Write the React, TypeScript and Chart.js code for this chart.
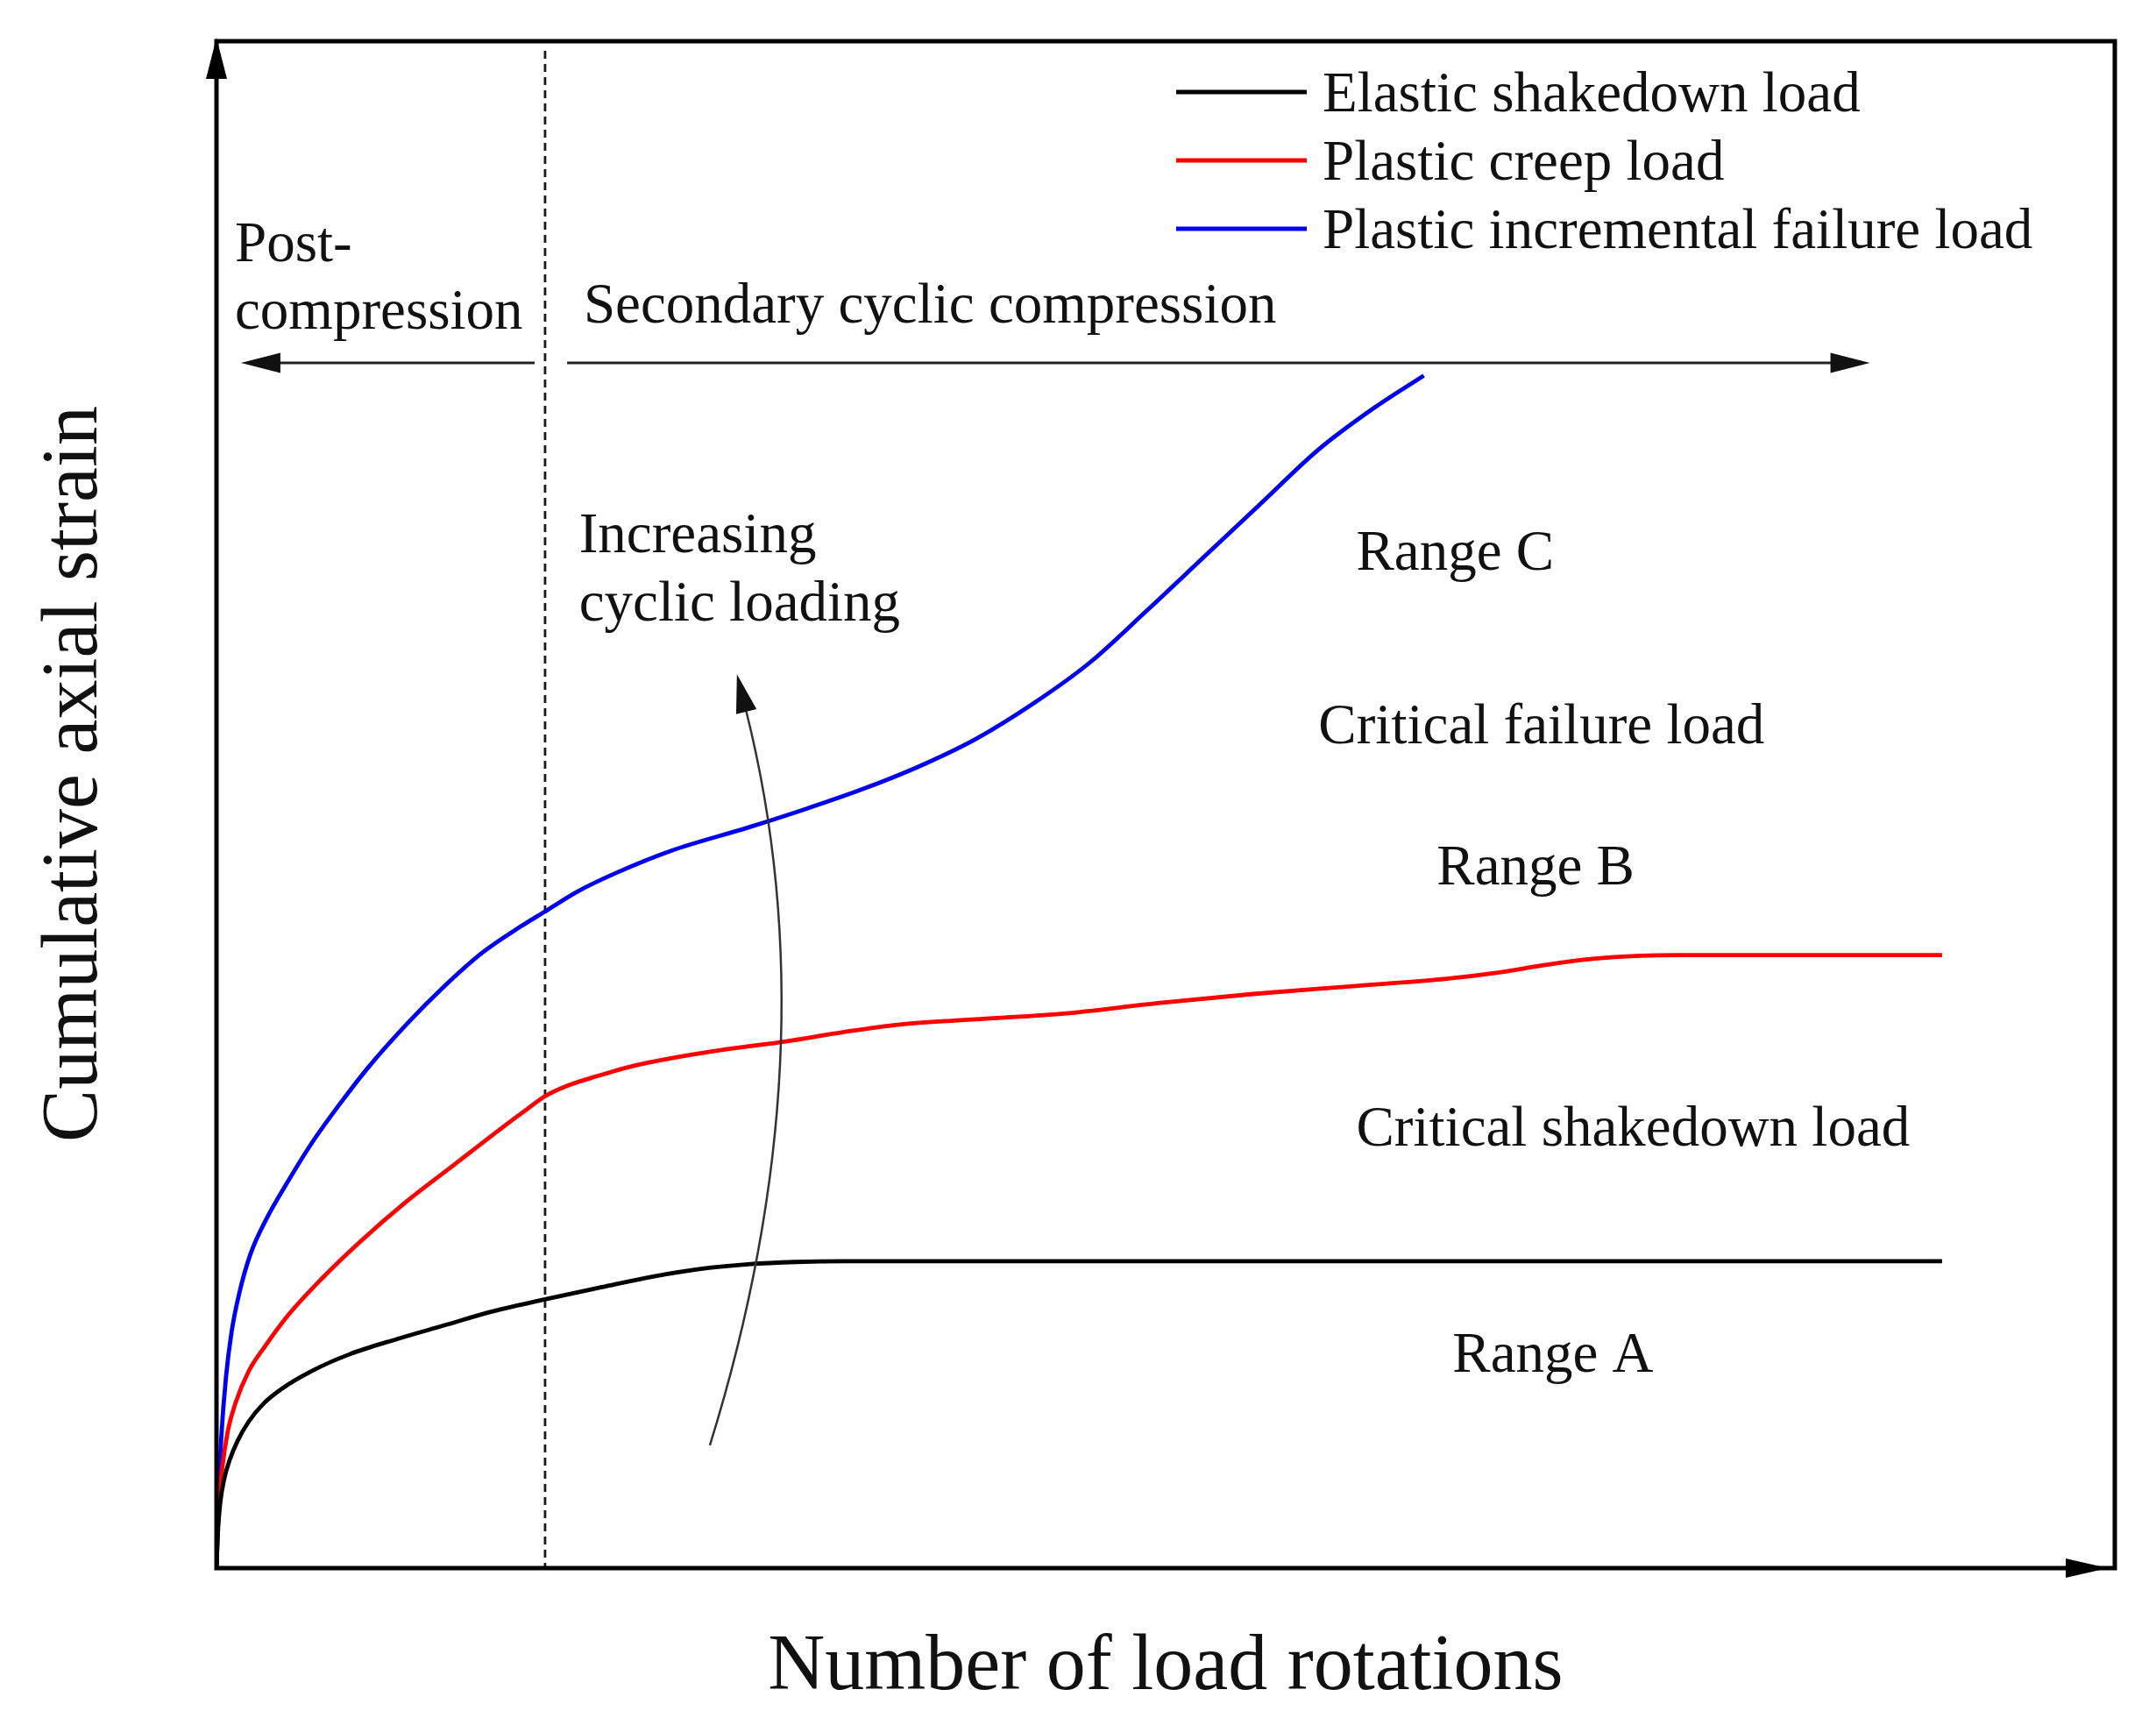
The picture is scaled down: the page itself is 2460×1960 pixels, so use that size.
import React, { useEffect, useRef } from "react";
import { Chart, registerables } from "chart.js";

Chart.register(...registerables);

// ---- Data (schematic units: x = load rotations 0-100, y = cumulative strain 0-100) ----
const seriesLabels = [
  "Elastic shakedown load",
  "Plastic creep load",
  "Plastic incremental failure load",
];
const seriesColors = ["#000000", "#ff0000", "#0000f0"];

const elasticShakedown: [number, number][] = [
  [0, 0], [0.08, 2.5], [0.2, 4.3], [0.4, 5.8], [0.7, 7.1], [1.1, 8.3], [1.7, 9.6],
  [2.5, 10.8], [3.5, 11.8], [5.0, 12.9], [7.0, 14.0], [9.5, 15.0], [12.0, 15.9],
  [14.5, 16.8], [17.3, 17.6], [20.3, 18.4], [23.0, 19.1], [25.5, 19.6], [28.0, 19.9],
  [30.5, 20.05], [33.0, 20.1], [60.0, 20.1], [90.9, 20.1],
];

const plasticCreep: [number, number][] = [
  [0, 0], [0.1, 3.5], [0.3, 6.5], [0.6, 9.0], [1.0, 10.8], [1.7, 12.9], [2.6, 14.6],
  [3.8, 16.6], [5.5, 18.9], [7.5, 21.3], [10.0, 24.0], [12.5, 26.4], [15.0, 28.8],
  [16.3, 30.0], [17.3, 30.9], [18.5, 31.6], [20.0, 32.2], [22.0, 32.9], [24.0, 33.4],
  [27.0, 34.0], [30.0, 34.5], [33.0, 35.1], [36.0, 35.6], [39.4, 35.9], [44.5, 36.3],
  [49.6, 37.0], [54.6, 37.6], [59.7, 38.1], [64.8, 38.6], [67.5, 39.0], [70.0, 39.5],
  [72.5, 39.9], [75.0, 40.1], [77.0, 40.15], [90.9, 40.15],
];

const plasticFailure: [number, number][] = [
  [0, 0], [0.1, 4.5], [0.25, 8.5], [0.5, 12.5], [0.8, 15.5], [1.2, 18.0], [1.8, 20.6],
  [2.6, 22.8], [3.8, 25.4], [5.0, 27.8], [6.5, 30.4], [8.0, 32.8], [10.0, 35.6],
  [12.0, 38.1], [14.0, 40.3], [16.0, 42.0], [17.3, 43.0], [19.0, 44.3], [21.0, 45.5],
  [24.0, 47.0], [28.0, 48.5], [31.0, 49.7], [34.0, 51.0], [37.0, 52.5], [40.0, 54.3],
  [43.0, 56.6], [46.0, 59.3], [49.0, 62.7], [52.0, 66.2], [55.0, 69.7], [58.0, 73.2],
  [61.0, 76.0], [63.6, 78.1],
];

const xTitle = "Number of load rotations";
const yTitle = "Cumulative axial strain";

// ---- Annotation layout (data coordinates) ----
const phaseBoundaryX = 17.31;
const annotationTexts = [
  { text: "Post-", x: 0.97, y: 85.59 },
  { text: "compression", x: 0.97, y: 81.17 },
  { text: "Secondary cyclic compression", x: 19.34, y: 81.57 },
  { text: "Increasing", x: 19.1, y: 66.53 },
  { text: "cyclic loading", x: 19.1, y: 62.06 },
  { text: "Range C", x: 60.04, y: 65.38 },
  { text: "Critical failure load", x: 58.05, y: 54.02 },
  { text: "Range B", x: 64.28, y: 44.78 },
  { text: "Critical shakedown load", x: 60.04, y: 27.67 },
  { text: "Range A", x: 65.11, y: 12.86 },
];

const FONT = '"Liberation Serif", "Times New Roman", serif';

function arrowHead(ctx: CanvasRenderingContext2D, tx: number, ty: number, dx: number, dy: number, len: number, half: number) {
  const bx = tx - dx * len;
  const by = ty - dy * len;
  const nx = -dy;
  const ny = dx;
  ctx.beginPath();
  ctx.moveTo(tx, ty);
  ctx.lineTo(bx + nx * half, by + ny * half);
  ctx.lineTo(bx - nx * half, by - ny * half);
  ctx.closePath();
  ctx.fill();
}

const decorPlugin = {
  id: "decor",
  beforeDatasetsDraw(chart: any) {
    const { ctx, chartArea: a, scales } = chart;
    const px = scales.x.getPixelForValue(phaseBoundaryX);
    ctx.save();
    ctx.strokeStyle = "#1a1a1a";
    ctx.lineWidth = 2.8;
    ctx.setLineDash([9, 6]);
    ctx.beginPath();
    ctx.moveTo(px, a.top + 11);
    ctx.lineTo(px, a.bottom);
    ctx.stroke();
    ctx.restore();
  },
  afterDatasetsDraw(chart: any) {
    const { ctx, chartArea: a, scales } = chart;
    const X = (v: number) => scales.x.getPixelForValue(v);
    const Y = (v: number) => scales.y.getPixelForValue(v);
    ctx.save();

    // frame & axes
    ctx.strokeStyle = "#000";
    ctx.fillStyle = "#000";
    ctx.lineWidth = 5;
    ctx.lineCap = "square";
    ctx.beginPath();
    ctx.moveTo(a.left, a.bottom);
    ctx.lineTo(a.left, a.top);
    ctx.lineTo(a.right, a.top);
    ctx.lineTo(a.right, a.bottom);
    ctx.lineTo(a.left, a.bottom);
    ctx.stroke();
    ctx.lineCap = "butt";
    arrowHead(ctx, a.left, a.top - 4, 0, -1, 47, 12);
    arrowHead(ctx, a.right - 8, a.bottom, 1, 0, 48, 11);

    // phase arrows
    ctx.strokeStyle = "#222";
    ctx.fillStyle = "#111";
    ctx.lineWidth = 3;
    const ay = Y(78.93);
    const lTip = X(1.29);
    ctx.beginPath();
    ctx.moveTo(X(16.76), ay);
    ctx.lineTo(lTip + 40, ay);
    ctx.stroke();
    arrowHead(ctx, lTip, ay, -1, 0, 45, 11.5);
    const rTip = X(87.1);
    ctx.beginPath();
    ctx.moveTo(X(18.47), ay);
    ctx.lineTo(rTip - 40, ay);
    ctx.stroke();
    arrowHead(ctx, rTip, ay, 1, 0, 45, 11.5);

    // curved "increasing" arrow
    const sx = X(25.99), sy = Y(8.04);
    const cx = X(32.43), cy = Y(33.78);
    const ex = X(27.89), ey = Y(56.2);
    ctx.strokeStyle = "#333";
    ctx.lineWidth = 2.5;
    ctx.beginPath();
    ctx.moveTo(sx, sy);
    ctx.quadraticCurveTo(cx, cy, ex, ey);
    ctx.stroke();
    let dx = ex - cx, dy = ey - cy;
    const dl = Math.hypot(dx, dy);
    dx /= dl; dy /= dl;
    ctx.fillStyle = "#111";
    arrowHead(ctx, ex + dx * 42, ey + dy * 42, dx, dy, 44, 12);

    // annotation texts
    ctx.fillStyle = "#111";
    ctx.font = `65px ${FONT}`;
    ctx.textAlign = "left";
    ctx.textBaseline = "alphabetic";
    for (const t of annotationTexts) {
      ctx.fillText(t.text, X(t.x), Y(t.y));
    }

    // legend
    const ds = chart.data.datasets;
    ds.forEach((d: any, i: number) => {
      const ry = a.top + 58 + i * 78;
      ctx.strokeStyle = d.borderColor;
      ctx.lineWidth = 5;
      ctx.beginPath();
      ctx.moveTo(a.right - 1071, ry);
      ctx.lineTo(a.right - 922, ry);
      ctx.stroke();
      ctx.fillStyle = "#111";
      ctx.fillText(d.label, a.right - 904, ry + 22);
    });

    // axis titles
    ctx.font = `90px ${FONT}`;
    ctx.fillStyle = "#111";
    ctx.textAlign = "center";
    ctx.fillText(xTitle, (a.left + a.right) / 2, a.bottom + 138);
    ctx.save();
    ctx.translate(a.left - 137, a.top + 836);
    ctx.rotate(-Math.PI / 2);
    ctx.fillText(yTitle, 0, 0);
    ctx.restore();

    ctx.restore();
  },
};

export default function App() {
  const ref = useRef<HTMLCanvasElement | null>(null);
  useEffect(() => {
    if (!ref.current) return;
    const series = [elasticShakedown, plasticCreep, plasticFailure];
    const chart = new Chart(ref.current, {
      type: "line",
      data: {
        datasets: series.map((s, i) => ({
          label: seriesLabels[i],
          data: s.map(([x, y]) => ({ x, y })),
          borderColor: seriesColors[i],
          backgroundColor: seriesColors[i],
          borderWidth: 4.8,
          pointRadius: 0,
          fill: false,
          cubicInterpolationMode: "monotone" as const,
        })),
      },
      options: {
        animation: false,
        responsive: false,
        layout: { padding: { left: 239, right: 39, top: 39, bottom: 163 } },
        plugins: {
          legend: { display: false },
          tooltip: { enabled: false },
          title: { display: false },
        },
        scales: {
          x: { type: "linear", min: 0, max: 100, display: false },
          y: { type: "linear", min: 0, max: 100, display: false },
        },
      },
      plugins: [decorPlugin],
    });
    return () => chart.destroy();
  }, []);
  return (
    <div style={{ width: 2444, height: 1944, background: "#fff" }}>
      <canvas ref={ref} width={2444} height={1944} style={{ display: "block" }} />
    </div>
  );
}
